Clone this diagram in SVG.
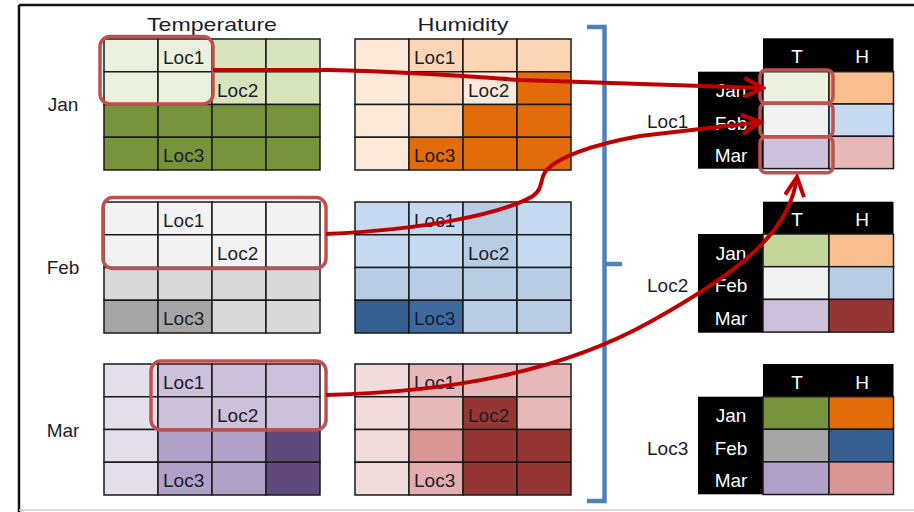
<svg xmlns="http://www.w3.org/2000/svg" width="914" height="512" viewBox="0 0 914 512">
<style>
text{font-family:"Liberation Sans",Arial,sans-serif;font-size:19px;fill:#1c1c2c}
.c{stroke:#1a1a1a;stroke-width:1.5}
.w{fill:#fff;text-anchor:middle}
.m{text-anchor:middle}
.hl{fill:none;stroke:#C0504D;stroke-width:3.5}
.ar{fill:none;stroke:#C00000;stroke-width:4;marker-end:url(#ah)}
.blk{fill:#000}
</style>
<defs>
<marker id="ah" viewBox="0 0 24 22" refX="21" refY="11" markerWidth="24" markerHeight="22" markerUnits="userSpaceOnUse" orient="auto">
<path d="M2,1.5 L21,11 L2,20.5" fill="none" stroke="#C00000" stroke-width="4"/>
</marker>
</defs>
<rect width="914" height="512" fill="#fff"/>
<g id="frame">
<line x1="19" y1="5" x2="914" y2="5" stroke="#111" stroke-width="2.5"/>
<line x1="19" y1="5" x2="19" y2="512" stroke="#111" stroke-width="2.5"/>
<line x1="19" y1="510" x2="914" y2="510" stroke="#d0d0d0" stroke-width="1.5"/>
</g>
<g id="headings">
<text x="212" y="31" class="m" textLength="130" lengthAdjust="spacingAndGlyphs">Temperature</text>
<text x="463" y="31" class="m" textLength="91" lengthAdjust="spacingAndGlyphs">Humidity</text>
<text x="63" y="111" class="m">Jan</text>
<text x="63" y="274" class="m">Feb</text>
<text x="63" y="437" class="m">Mar</text>
</g>
<g id="jan-temp">
<rect class="c" x="104" y="39" width="54" height="32.75" fill="#EBF1DE"/>
<rect class="c" x="158" y="39" width="54" height="32.75" fill="#EBF1DE"/>
<rect class="c" x="212" y="39" width="54" height="32.75" fill="#D8E4BC"/>
<rect class="c" x="266" y="39" width="54" height="32.75" fill="#D8E4BC"/>
<rect class="c" x="104" y="71.75" width="54" height="32.75" fill="#EBF1DE"/>
<rect class="c" x="158" y="71.75" width="54" height="32.75" fill="#EBF1DE"/>
<rect class="c" x="212" y="71.75" width="54" height="32.75" fill="#D8E4BC"/>
<rect class="c" x="266" y="71.75" width="54" height="32.75" fill="#D8E4BC"/>
<rect class="c" x="104" y="104.5" width="54" height="32.75" fill="#77933C"/>
<rect class="c" x="158" y="104.5" width="54" height="32.75" fill="#77933C"/>
<rect class="c" x="212" y="104.5" width="54" height="32.75" fill="#77933C"/>
<rect class="c" x="266" y="104.5" width="54" height="32.75" fill="#77933C"/>
<rect class="c" x="104" y="137.25" width="54" height="32.75" fill="#77933C"/>
<rect class="c" x="158" y="137.25" width="54" height="32.75" fill="#77933C"/>
<rect class="c" x="212" y="137.25" width="54" height="32.75" fill="#77933C"/>
<rect class="c" x="266" y="137.25" width="54" height="32.75" fill="#77933C"/>
<text x="163" y="64">Loc1</text>
<text x="217" y="96.75">Loc2</text>
<text x="163" y="162.25">Loc3</text>
</g>
<g id="jan-hum">
<rect class="c" x="355" y="39" width="54" height="32.75" fill="#FDE9D9"/>
<rect class="c" x="409" y="39" width="54" height="32.75" fill="#FCD5B4"/>
<rect class="c" x="463" y="39" width="54" height="32.75" fill="#FCD5B4"/>
<rect class="c" x="517" y="39" width="54" height="32.75" fill="#FCD5B4"/>
<rect class="c" x="355" y="71.75" width="54" height="32.75" fill="#FDE9D9"/>
<rect class="c" x="409" y="71.75" width="54" height="32.75" fill="#FCD5B4"/>
<rect class="c" x="463" y="71.75" width="54" height="32.75" fill="#FDE9D9"/>
<rect class="c" x="517" y="71.75" width="54" height="32.75" fill="#E26B0A"/>
<rect class="c" x="355" y="104.5" width="54" height="32.75" fill="#FDE9D9"/>
<rect class="c" x="409" y="104.5" width="54" height="32.75" fill="#FCD5B4"/>
<rect class="c" x="463" y="104.5" width="54" height="32.75" fill="#E26B0A"/>
<rect class="c" x="517" y="104.5" width="54" height="32.75" fill="#E26B0A"/>
<rect class="c" x="355" y="137.25" width="54" height="32.75" fill="#FDE9D9"/>
<rect class="c" x="409" y="137.25" width="54" height="32.75" fill="#E26B0A"/>
<rect class="c" x="463" y="137.25" width="54" height="32.75" fill="#E26B0A"/>
<rect class="c" x="517" y="137.25" width="54" height="32.75" fill="#E26B0A"/>
<text x="414" y="64">Loc1</text>
<text x="468" y="96.75">Loc2</text>
<text x="414" y="162.25">Loc3</text>
</g>
<g id="feb-temp">
<rect class="c" x="104" y="202" width="54" height="32.75" fill="#F2F2F2"/>
<rect class="c" x="158" y="202" width="54" height="32.75" fill="#F2F2F2"/>
<rect class="c" x="212" y="202" width="54" height="32.75" fill="#F2F2F2"/>
<rect class="c" x="266" y="202" width="54" height="32.75" fill="#F2F2F2"/>
<rect class="c" x="104" y="234.75" width="54" height="32.75" fill="#F2F2F2"/>
<rect class="c" x="158" y="234.75" width="54" height="32.75" fill="#F2F2F2"/>
<rect class="c" x="212" y="234.75" width="54" height="32.75" fill="#F2F2F2"/>
<rect class="c" x="266" y="234.75" width="54" height="32.75" fill="#F2F2F2"/>
<rect class="c" x="104" y="267.5" width="54" height="32.75" fill="#D9D9D9"/>
<rect class="c" x="158" y="267.5" width="54" height="32.75" fill="#D9D9D9"/>
<rect class="c" x="212" y="267.5" width="54" height="32.75" fill="#D9D9D9"/>
<rect class="c" x="266" y="267.5" width="54" height="32.75" fill="#D9D9D9"/>
<rect class="c" x="104" y="300.25" width="54" height="32.75" fill="#A6A6A6"/>
<rect class="c" x="158" y="300.25" width="54" height="32.75" fill="#A6A6A6"/>
<rect class="c" x="212" y="300.25" width="54" height="32.75" fill="#D9D9D9"/>
<rect class="c" x="266" y="300.25" width="54" height="32.75" fill="#D9D9D9"/>
<text x="163" y="227">Loc1</text>
<text x="217" y="259.75">Loc2</text>
<text x="163" y="325.25">Loc3</text>
</g>
<g id="feb-hum">
<rect class="c" x="355" y="202" width="54" height="32.75" fill="#C5D9F1"/>
<rect class="c" x="409" y="202" width="54" height="32.75" fill="#C5D9F1"/>
<rect class="c" x="463" y="202" width="54" height="32.75" fill="#B8CCE4"/>
<rect class="c" x="517" y="202" width="54" height="32.75" fill="#C5D9F1"/>
<rect class="c" x="355" y="234.75" width="54" height="32.75" fill="#C5D9F1"/>
<rect class="c" x="409" y="234.75" width="54" height="32.75" fill="#C5D9F1"/>
<rect class="c" x="463" y="234.75" width="54" height="32.75" fill="#B8CCE4"/>
<rect class="c" x="517" y="234.75" width="54" height="32.75" fill="#C5D9F1"/>
<rect class="c" x="355" y="267.5" width="54" height="32.75" fill="#B8CCE4"/>
<rect class="c" x="409" y="267.5" width="54" height="32.75" fill="#B8CCE4"/>
<rect class="c" x="463" y="267.5" width="54" height="32.75" fill="#B8CCE4"/>
<rect class="c" x="517" y="267.5" width="54" height="32.75" fill="#B8CCE4"/>
<rect class="c" x="355" y="300.25" width="54" height="32.75" fill="#366092"/>
<rect class="c" x="409" y="300.25" width="54" height="32.75" fill="#3D6A9E"/>
<rect class="c" x="463" y="300.25" width="54" height="32.75" fill="#B8CCE4"/>
<rect class="c" x="517" y="300.25" width="54" height="32.75" fill="#B8CCE4"/>
<text x="414" y="227">Loc1</text>
<text x="468" y="259.75">Loc2</text>
<text x="414" y="325.25">Loc3</text>
</g>
<g id="mar-temp">
<rect class="c" x="104" y="364" width="54" height="32.75" fill="#E4DFEC"/>
<rect class="c" x="158" y="364" width="54" height="32.75" fill="#CCC0DA"/>
<rect class="c" x="212" y="364" width="54" height="32.75" fill="#CCC0DA"/>
<rect class="c" x="266" y="364" width="54" height="32.75" fill="#CCC0DA"/>
<rect class="c" x="104" y="396.75" width="54" height="32.75" fill="#E4DFEC"/>
<rect class="c" x="158" y="396.75" width="54" height="32.75" fill="#CCC0DA"/>
<rect class="c" x="212" y="396.75" width="54" height="32.75" fill="#CCC0DA"/>
<rect class="c" x="266" y="396.75" width="54" height="32.75" fill="#CCC0DA"/>
<rect class="c" x="104" y="429.5" width="54" height="32.75" fill="#E4DFEC"/>
<rect class="c" x="158" y="429.5" width="54" height="32.75" fill="#B1A0C7"/>
<rect class="c" x="212" y="429.5" width="54" height="32.75" fill="#B1A0C7"/>
<rect class="c" x="266" y="429.5" width="54" height="32.75" fill="#60497A"/>
<rect class="c" x="104" y="462.25" width="54" height="32.75" fill="#E4DFEC"/>
<rect class="c" x="158" y="462.25" width="54" height="32.75" fill="#B1A0C7"/>
<rect class="c" x="212" y="462.25" width="54" height="32.75" fill="#B1A0C7"/>
<rect class="c" x="266" y="462.25" width="54" height="32.75" fill="#60497A"/>
<text x="163" y="389">Loc1</text>
<text x="217" y="421.75">Loc2</text>
<text x="163" y="487.25">Loc3</text>
</g>
<g id="mar-hum">
<rect class="c" x="355" y="364" width="54" height="32.75" fill="#F2DCDB"/>
<rect class="c" x="409" y="364" width="54" height="32.75" fill="#E6B8B7"/>
<rect class="c" x="463" y="364" width="54" height="32.75" fill="#E6B8B7"/>
<rect class="c" x="517" y="364" width="54" height="32.75" fill="#E6B8B7"/>
<rect class="c" x="355" y="396.75" width="54" height="32.75" fill="#F2DCDB"/>
<rect class="c" x="409" y="396.75" width="54" height="32.75" fill="#E6B8B7"/>
<rect class="c" x="463" y="396.75" width="54" height="32.75" fill="#963634"/>
<rect class="c" x="517" y="396.75" width="54" height="32.75" fill="#E6B8B7"/>
<rect class="c" x="355" y="429.5" width="54" height="32.75" fill="#F2DCDB"/>
<rect class="c" x="409" y="429.5" width="54" height="32.75" fill="#DA9694"/>
<rect class="c" x="463" y="429.5" width="54" height="32.75" fill="#963634"/>
<rect class="c" x="517" y="429.5" width="54" height="32.75" fill="#963634"/>
<rect class="c" x="355" y="462.25" width="54" height="32.75" fill="#F2DCDB"/>
<rect class="c" x="409" y="462.25" width="54" height="32.75" fill="#E3AEAD"/>
<rect class="c" x="463" y="462.25" width="54" height="32.75" fill="#963634"/>
<rect class="c" x="517" y="462.25" width="54" height="32.75" fill="#963634"/>
<text x="414" y="389">Loc1</text>
<text x="468" y="421.75">Loc2</text>
<text x="414" y="487.25">Loc3</text>
</g>
<g id="highlights-left">
<rect class="hl" x="100" y="36.5" width="113" height="67.5" rx="10"/>
<rect class="hl" x="103" y="197.5" width="223" height="71" rx="10"/>
<rect class="hl" x="151" y="361" width="175" height="69" rx="10"/>
</g>
<g id="bracket">
<path d="M587,27 H604.5 V501 H587 M604.5,264 H622" fill="none" stroke="#4F81BD" stroke-width="4.5"/>
</g>
<g id="loc1-table">
<rect class="blk" x="763" y="38.3" width="130.5" height="33.4"/>
<rect class="blk" x="698" y="71.7" width="65" height="97"/>
<rect class="c" x="763" y="71.7" width="66" height="32.3" fill="#EBF1DE"/>
<rect class="c" x="763" y="104" width="66" height="32.3" fill="#F2F2F2"/>
<rect class="c" x="763" y="136.3" width="66" height="32.3" fill="#CCC0DA"/>
<rect class="c" x="829" y="71.7" width="64.5" height="32.3" fill="#FABF8F"/>
<rect class="c" x="829" y="104" width="64.5" height="32.3" fill="#C5D9F1"/>
<rect class="c" x="829" y="136.3" width="64.5" height="32.3" fill="#E6B8B7"/>
<text x="797" y="63" class="w">T</text>
<text x="862" y="63" class="w">H</text>
<text x="731" y="97" class="w">Jan</text>
<text x="731" y="130" class="w">Feb</text>
<text x="731" y="162" class="w">Mar</text>
<text x="647" y="128">Loc1</text>
<rect class="hl" x="760" y="70" width="73" height="33.3" rx="6"/>
<rect class="hl" x="760" y="103.3" width="73" height="33.4" rx="6"/>
<rect class="hl" x="760" y="136.7" width="73" height="36" rx="6"/>
</g>
<g id="loc2-table">
<rect class="blk" x="763" y="201.7" width="130.5" height="32.3"/>
<rect class="blk" x="698" y="234" width="65" height="98.7"/>
<rect class="c" x="763" y="234" width="66" height="32.7" fill="#C4D79B"/>
<rect class="c" x="763" y="266.7" width="66" height="32.7" fill="#F2F2F2"/>
<rect class="c" x="763" y="299.4" width="66" height="32.7" fill="#CCC0DA"/>
<rect class="c" x="829" y="234" width="64.5" height="32.7" fill="#FABF8F"/>
<rect class="c" x="829" y="266.7" width="64.5" height="32.7" fill="#B8CCE4"/>
<rect class="c" x="829" y="299.4" width="64.5" height="32.7" fill="#963634"/>
<text x="797" y="226" class="w">T</text>
<text x="862" y="226" class="w">H</text>
<text x="731" y="259.5" class="w">Jan</text>
<text x="731" y="292" class="w">Feb</text>
<text x="731" y="324.5" class="w">Mar</text>
<text x="647" y="292">Loc2</text>
</g>
<g id="loc3-table">
<rect class="blk" x="763" y="364" width="130.5" height="32.7"/>
<rect class="blk" x="698" y="396.7" width="65" height="97.6"/>
<rect class="c" x="763" y="396.7" width="66" height="32.6" fill="#77933C"/>
<rect class="c" x="763" y="429.3" width="66" height="32.6" fill="#A6A6A6"/>
<rect class="c" x="763" y="461.9" width="66" height="32.6" fill="#B1A0C7"/>
<rect class="c" x="829" y="396.7" width="64.5" height="32.6" fill="#E26B0A"/>
<rect class="c" x="829" y="429.3" width="64.5" height="32.6" fill="#366092"/>
<rect class="c" x="829" y="461.9" width="64.5" height="32.6" fill="#DA9694"/>
<text x="797" y="388.5" class="w">T</text>
<text x="862" y="388.5" class="w">H</text>
<text x="731" y="422" class="w">Jan</text>
<text x="731" y="455" class="w">Feb</text>
<text x="731" y="487" class="w">Mar</text>
<text x="647" y="455">Loc3</text>
</g>
<g id="connectors">
<path class="ar" d="M213,70 L330,70 C420,72 460,76 520,80 L763,88"/>
<path class="ar" d="M326,234 C420,230 500,215 533,196 C543,189 540,180 545,172 C556,158 590,145 640,136 L761,122"/>
<path class="ar" d="M326,395 C450,392 560,372 650,322 C740,272 790,232 797,177"/>
</g>
</svg>
